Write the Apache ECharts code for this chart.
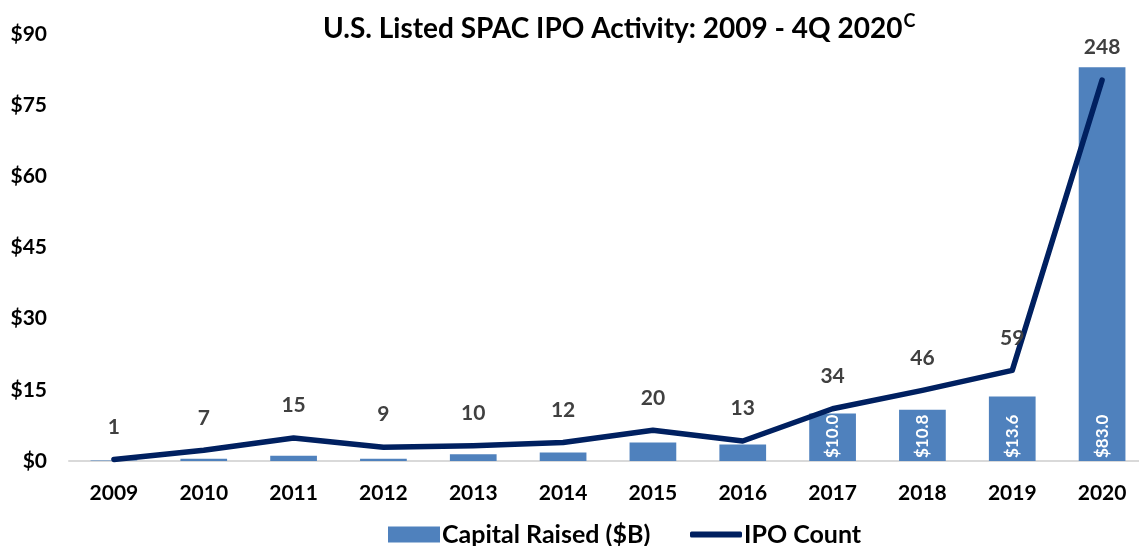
<!DOCTYPE html>
<html><head><meta charset="utf-8">
<script src="https://cdn.jsdelivr.net/npm/echarts@6/dist/echarts.min.js"></script>
<style>html,body{margin:0;padding:0;background:#fff;overflow:hidden;width:1139px;height:546px}#c{width:1147px;height:546px}</style>
</head><body><div id="c"></div>
<script>
const years = ['2009','2010','2011','2012','2013','2014','2015','2016','2017','2018','2019','2020'];
const capitalRaised = [0.1, 0.5, 1.1, 0.5, 1.4, 1.8, 3.9, 3.5, 10.0, 10.8, 13.6, 83.0];
const ipoCount = [1, 7, 15, 9, 10, 12, 20, 13, 34, 46, 59, 248];
const yTicks = [0, 15, 30, 45, 60, 75, 90];
const labeledFrom = 8; // bar labels shown from 2017

const FONT = 'Lato, "Open Sans", sans-serif';
const legendText = { fontFamily: FONT, fontWeight: 'bold', fontSize: 25, color: '#000', padding: [0,0,0,-3] };
const chart = echarts.init(document.getElementById('c'));
chart.setOption({
  animation: false,
  title: {
    text: '{m|U.S. Listed SPAC IPO Activity: 2009 - 4Q 2020}{s|C}',
    left: 318, top: 7,
    textStyle: { rich: {
      m: { fontFamily: FONT, fontWeight: 'bold', fontSize: 28, color: '#000' },
      s: { fontFamily: FONT, fontWeight: 'bold', fontSize: 18, color: '#000', verticalAlign: 'top', padding: [0,0,16,1] }
    } }
  },
  grid: { left: 69, right: 0, top: 34, bottom: 85 },
  legend: [{
    left: 383, top: 517, itemWidth: 52, itemHeight: 16,
    textStyle: legendText,
    data: [{ name: 'Capital Raised ($B)', icon: 'rect' }]
  }, {
    left: 685, top: 517, itemWidth: 52, itemHeight: 6,
    textStyle: legendText,
    data: [{ name: 'IPO Count', icon: 'roundRect' }]
  }],
  xAxis: {
    type: 'category', data: years,
    axisLine: { lineStyle: { color: '#d9d9d9', width: 2 } },
    axisTick: { show: false },
    axisLabel: { fontFamily: FONT, fontWeight: 'bold', fontSize: 21, color: '#000', margin: 22 }
  },
  yAxis: [{
    type: 'value', min: yTicks[0], max: yTicks[yTicks.length-1], interval: 15,
    splitLine: { show: false }, axisLine: { show: false }, axisTick: { show: false },
    axisLabel: { fontFamily: FONT, fontWeight: 'bold', fontSize: 21, color: '#000', margin: 22,
      formatter: v => '$' + v }
  }, {
    type: 'value', min: 0, max: 278, show: false, splitLine: { show: false }
  }],
  series: [{
    name: 'Capital Raised ($B)', type: 'bar', data: capitalRaised, barWidth: '52%',
    itemStyle: { color: '#4F81BD' },
    label: {
      show: true, position: 'insideBottom', rotate: 90, align: 'left', verticalAlign: 'middle',
      distance: 3, color: '#fff', fontFamily: FONT, fontWeight: 'bold', fontSize: 17,
      formatter: p => p.dataIndex >= labeledFrom ? '$' + p.value.toFixed(1) : ''
    }
  }, {
    name: 'IPO Count', type: 'line', yAxisIndex: 1, data: ipoCount,
    symbol: 'none', lineStyle: { color: '#002060', width: 5.5, cap: 'round', join: 'round' },
    itemStyle: { color: '#002060' }
  }, {
    name: 'IPO Count labels', type: 'scatter', yAxisIndex: 1, data: ipoCount,
    symbolSize: 2, itemStyle: { color: 'rgba(0,0,0,0)', opacity: 1 }, silent: true, z: 5,
    label: { show: true, position: 'top', distance: 21, color: '#404040',
      fontFamily: FONT, fontWeight: 'bold', fontSize: 21 }
  }]
});
</script></body></html>
